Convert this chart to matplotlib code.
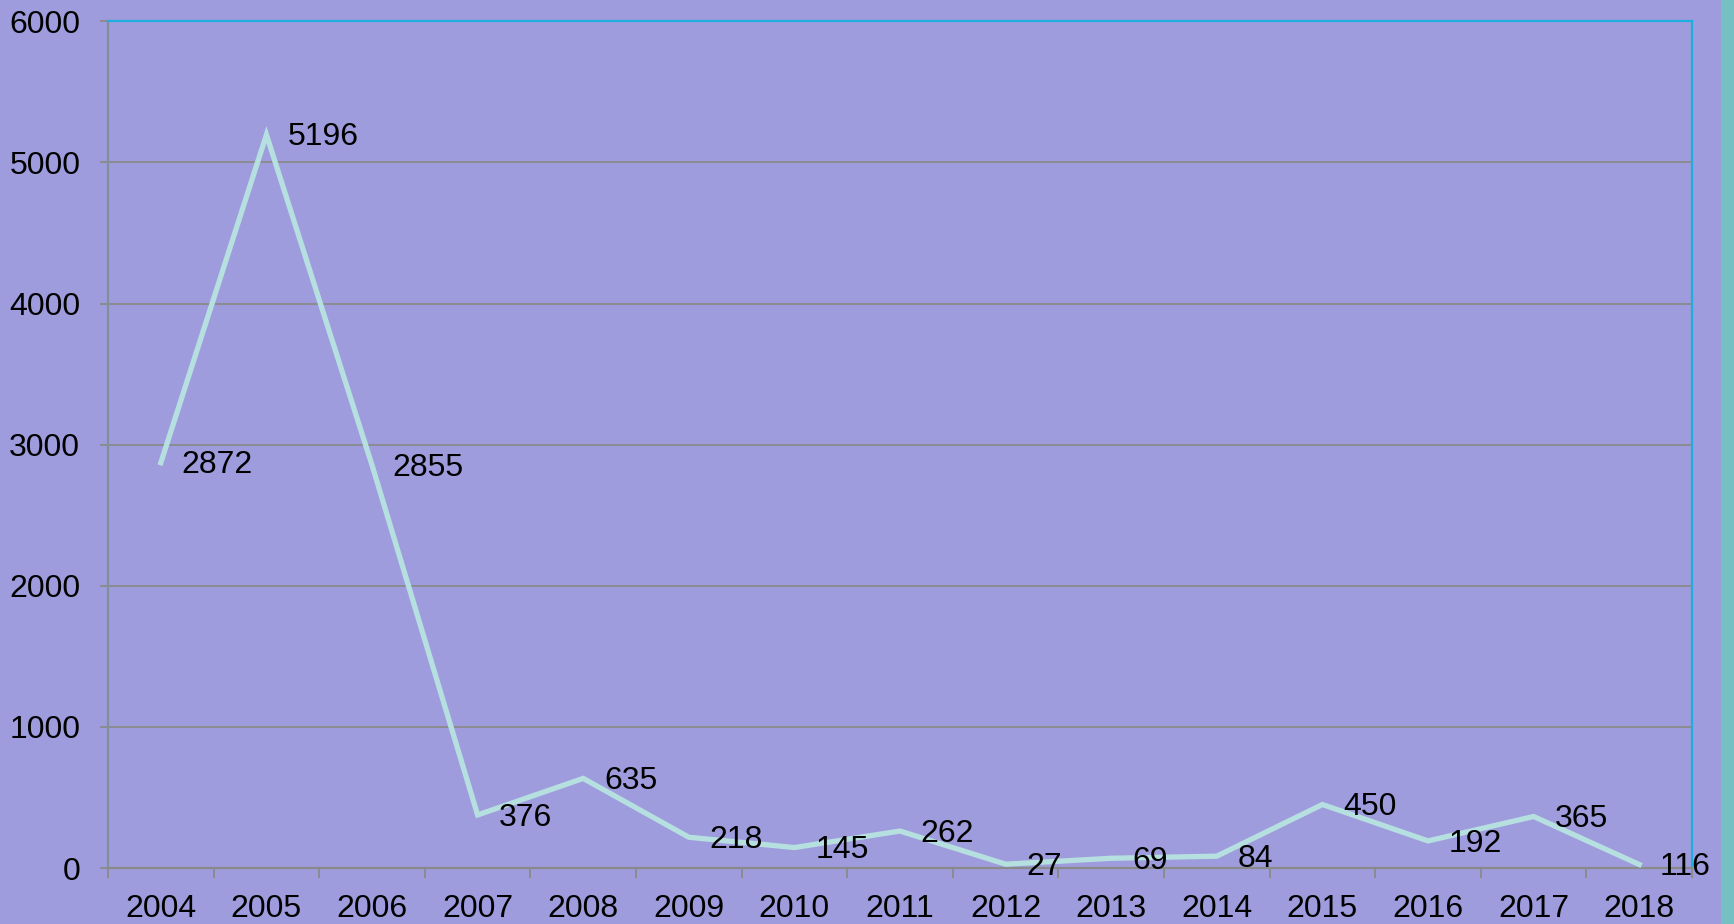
import matplotlib
matplotlib.use('Agg')
import matplotlib.pyplot as plt
from matplotlib.patches import Rectangle

plt.rcParams['font.family'] = ['Liberation Sans', 'DejaVu Sans']

years = ['2004', '2005', '2006', '2007', '2008', '2009', '2010', '2011',
         '2012', '2013', '2014', '2015', '2016', '2017', '2018']
values = [2872, 5196, 2855, 376, 635, 218, 145, 262, 27, 69, 84, 450, 192, 365, 25]
labels = ['2872', '5196', '2855', '376', '635', '218', '145', '262',
          '27', '69', '84', '450', '192', '365', '116']
yticks = [0, 1000, 2000, 3000, 4000, 5000, 6000]

bg = '#9E9CDD'
fig = plt.figure(figsize=(17.34, 9.24), dpi=100, facecolor=bg)
ax = fig.add_axes([0.0623, 0.0606, 0.9135, 0.9164])
ax.set_facecolor(bg)

# teal strip on the right edge
fig.patches.append(Rectangle((1721 / 1734, 0), 13 / 1734, 1, transform=fig.transFigure,
                             facecolor='#74C0C2', edgecolor='none'))

x = list(range(len(years)))
ax.plot(x, values, color='#B6E0E0', lw=3.8, solid_joinstyle='miter', zorder=3)
for xi, v, t in zip(x, values, labels):
    ax.annotate(t, (xi, v), xytext=(15, -2), textcoords='offset points',
                ha='left', va='center', fontsize=23, color='black', zorder=4)

ax.set_xlim(-0.5, len(years) - 0.5)
ax.set_ylim(0, 6000)
ax.set_yticks(yticks)
ax.set_yticklabels([str(t) for t in yticks])
ax.yaxis.grid(True, color='#8A8A8A', lw=1.3)
ax.set_axisbelow(True)

# category ticks between years
ax.set_xticks([i - 0.5 for i in range(len(years) + 1)])
ax.set_xticklabels([])
ax.set_xticks(x, minor=True)
ax.set_xticklabels(years, minor=True)
ax.tick_params(axis='x', which='major', direction='out', length=7, width=1.3, color='#8A8A8A')
ax.tick_params(axis='x', which='minor', length=0, pad=19, labelsize=23)
ax.tick_params(axis='y', direction='out', length=6, width=1.3, color='#8A8A8A',
               pad=14, labelsize=23)

ax.spines['left'].set_color('#7F8F9C')
ax.spines['bottom'].set_color('#8A8A8A')
ax.spines['top'].set_color('#1FAEE0')
ax.spines['right'].set_color('#1FAEE0')
for s in ax.spines.values():
    s.set_linewidth(1.6)

fig.savefig('out.png', dpi=100, facecolor=bg)
